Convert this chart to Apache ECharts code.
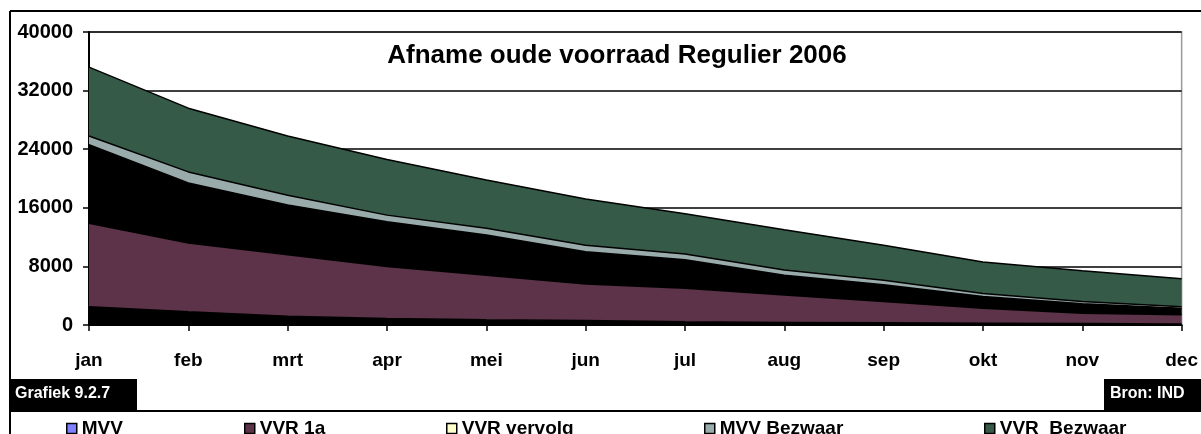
<!DOCTYPE html>
<html>
<head>
<meta charset="utf-8">
<script src="https://cdn.jsdelivr.net/npm/echarts@6/dist/echarts.min.js"></script>
<style>
  html, body { margin: 0; padding: 0; background: #fff; }
  #main { width: 1201px; height: 434px; }
</style>
</head>
<body>
<div id="main"></div>
<script>
// maanden
var months = ['jan', 'feb', 'mrt', 'apr', 'mei', 'jun', 'jul', 'aug', 'sep', 'okt', 'nov', 'dec'];

// gestapelde reeksen, van onder naar boven
var mvv         = [2500, 1800, 1200, 900, 700, 600, 450, 350, 300, 250, 200, 150];
var vvr1a       = [11400, 9400, 8400, 7100, 6100, 5000, 4550, 3750, 2900, 2050, 1400, 1250];
var vvrVervolg  = [10700, 8200, 6800, 6100, 5500, 4400, 3900, 2700, 2300, 1600, 1300, 900];
var mvvBezwaar  = [1200, 1500, 1300, 900, 900, 900, 800, 700, 600, 400, 300, 200];
var vvrBezwaar  = [9400, 8700, 8100, 7600, 6600, 6300, 5500, 5500, 4800, 4300, 4200, 3800];

var yTicks = { min: 0, max: 40000, interval: 8000 };

var font = "'Liberation Sans', Arial, sans-serif";

function areaSerie(name, data, color){
  return {
    name: name,
    type: 'line',
    stack: 'totaal',
    data: data,
    symbol: 'none',
    smooth: false,
    itemStyle: { color: color },
    lineStyle: { color: '#000', width: 1.5 },
    areaStyle: { color: color, opacity: 1 }
  };
}

// één legenda per item, zodat de posities kloppen
function legendAt(x, name, color){
  return {
    top: 419,
    left: x,
    padding: 0,
    icon: 'rect',
    itemWidth: 10,
    itemHeight: 10,
    textStyle: { fontFamily: font, fontWeight: 'bold', fontSize: 19, color: '#000' },
    data: [{ name: name, itemStyle: { color: color, borderColor: '#000', borderWidth: 1.5 } }]
  };
}

var chart = echarts.init(document.getElementById('main'), null, { renderer: 'canvas' });

chart.setOption({
  animation: false,
  backgroundColor: '#fff',
  title: {
    text: 'Afname oude voorraad Regulier 2006',
    left: 612,
    textAlign: 'center',
    top: 38,
    textStyle: { fontFamily: font, fontWeight: 'bold', fontSize: 26, color: '#000' }
  },
  legend: [
    legendAt(66, 'MVV', '#8080ff'),
    legendAt(244, 'VVR 1a', '#5c3348'),
    legendAt(446, 'VVR vervolg', '#ffffcc'),
    legendAt(704, 'MVV Bezwaar', '#99abab'),
    legendAt(984, 'VVR  Bezwaar', '#355a47')
  ],
  grid: {
    left: 89,
    right: 19,
    top: 32,
    bottom: 109,
    show: true,
    borderColor: '#999',
    borderWidth: 1.5
  },
  xAxis: {
    type: 'category',
    data: months,
    boundaryGap: false,
    axisLine: { lineStyle: { color: '#000', width: 2 } },
    axisTick: { show: true, alignWithLabel: true, length: 6, lineStyle: { color: '#000', width: 1.5 } },
    axisLabel: { margin: 26, fontFamily: font, fontWeight: 'bold', fontSize: 19, color: '#000', interval: 0 },
    splitLine: { show: false }
  },
  yAxis: {
    type: 'value',
    min: yTicks.min,
    max: yTicks.max,
    interval: yTicks.interval,
    axisLine: { show: true, lineStyle: { color: '#000', width: 2 } },
    axisTick: { show: true, length: 6, lineStyle: { color: '#000', width: 1.5 } },
    axisLabel: {
      margin: 16, fontFamily: font, fontWeight: 'bold', fontSize: 20, color: '#000',
      formatter: function (v) { return String(v); }
    },
    splitLine: { show: true, lineStyle: { color: '#000', width: 1.5 } }
  },
  series: [
    areaSerie('MVV', mvv, '#000'),
    areaSerie('VVR 1a', vvr1a, '#5c3348'),
    areaSerie('VVR vervolg', vvrVervolg, '#000'),
    areaSerie('MVV Bezwaar', mvvBezwaar, '#99abab'),
    areaSerie('VVR  Bezwaar', vvrBezwaar, '#355a47')
  ],
  graphic: [
    // kader
    { type: 'line', shape: { x1: 10, y1: 11, x2: 1201, y2: 11 }, style: { stroke: '#000', lineWidth: 2 } },
    { type: 'line', shape: { x1: 10, y1: 11, x2: 10, y2: 434 }, style: { stroke: '#000', lineWidth: 2 } },
    { type: 'line', shape: { x1: 10, y1: 411, x2: 1201, y2: 411 }, style: { stroke: '#000', lineWidth: 2 } },
    // bronvermelding
    { type: 'rect', shape: { x: 10, y: 379, width: 127, height: 31 }, style: { fill: '#000' } },
    { type: 'text', left: 15, top: 386, style: { text: 'Grafiek 9.2.7', fill: '#fff', font: 'bold 16px ' + font } },
    { type: 'rect', shape: { x: 1104, y: 379, width: 97, height: 31 }, style: { fill: '#000' } },
    { type: 'text', left: 1110, top: 386, style: { text: 'Bron: IND', fill: '#fff', font: 'bold 16px ' + font } }
  ]
});
</script>
</body>
</html>
